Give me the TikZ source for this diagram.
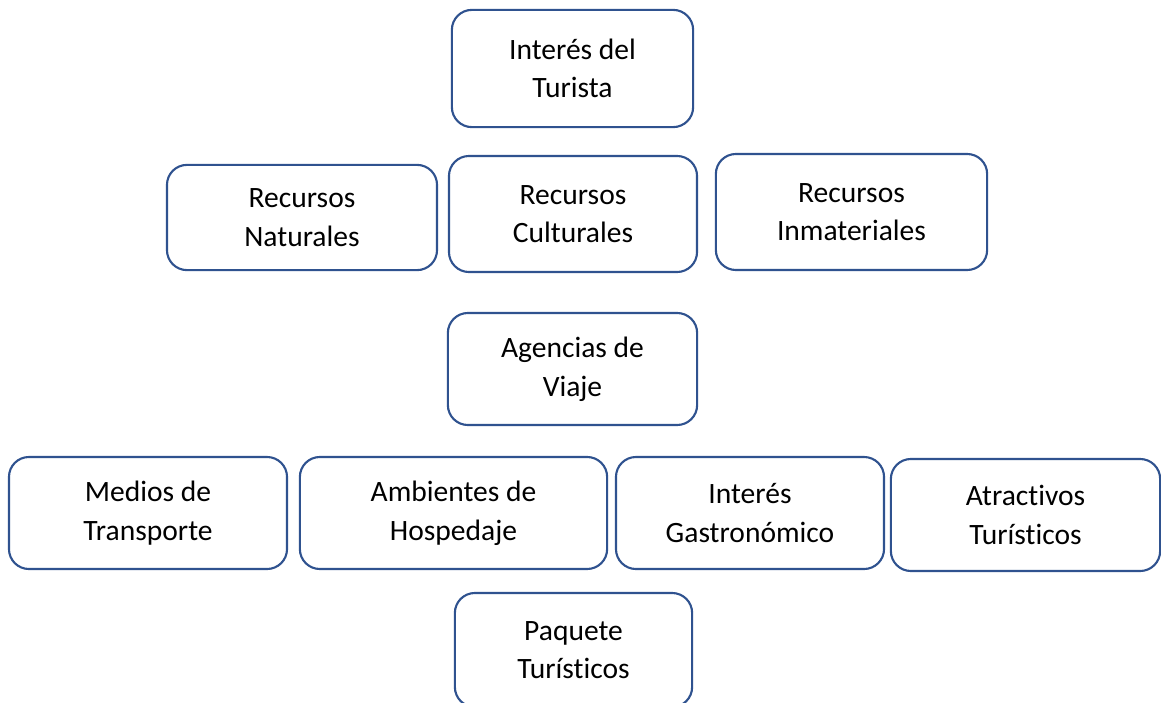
\documentclass[tikz,border=0pt]{standalone}
\usepackage{fontspec}
\setmainfont{Carlito}[Ligatures={NoCommon}]
\usepackage{tikz}
\usetikzlibrary{positioning}
\definecolor{boxblue}{RGB}{47,82,143}

\begin{document}
\begin{tikzpicture}[
    x=0.025cm, y=-0.025cm,
    box/.style={draw=boxblue, line width=1.5pt, rectangle, rounded corners=0.5cm, align=center, fill=white, inner sep=0pt, font=\fontsize{21}{27.5}\selectfont}
]
    \useasboundingbox (0,0) rectangle (1161,702);
    \clip (0,0) rectangle (1161,702);

    % --- Top ---
    \node[box, minimum width=6.03cm, minimum height=2.93cm] (tourist) at (572.5,68.5) {Interés del\\Turista};

    % --- Resources ---
    \node[box, minimum width=6.75cm, minimum height=2.63cm] (natural) at (302,217.5) {Recursos\\Naturales};
    \node[box, minimum width=6.2cm, minimum height=2.9cm] (cultural) at (573,214) {Recursos\\Culturales};
    \node[box, minimum width=6.78cm, minimum height=2.9cm] (intangible) at (851.5,212) {Recursos\\Inmateriales};

    % --- Agencies ---
    \node[box, minimum width=6.23cm, minimum height=2.8cm] (agency) at (572.5,369) {Agencias de\\Viaje};

    % --- Services ---
    \node[box, minimum width=6.95cm, minimum height=2.8cm] (transport) at (148,513) {Medios de\\Transporte};
    \node[box, minimum width=7.68cm, minimum height=2.8cm] (lodging) at (453.5,513) {Ambientes de\\Hospedaje};
    \node[box, minimum width=6.7cm, minimum height=2.8cm] (food) at (750,513) {Interés\\Gastronómico};
    \node[box, minimum width=6.73cm, minimum height=2.8cm] (sights) at (1025.5,515) {Atractivos\\Turísticos};

    % --- Package ---
    \node[box, minimum width=5.93cm, minimum height=2.85cm] (package) at (573.5,650) {Paquete\\Turísticos};

\end{tikzpicture}
\end{document}
